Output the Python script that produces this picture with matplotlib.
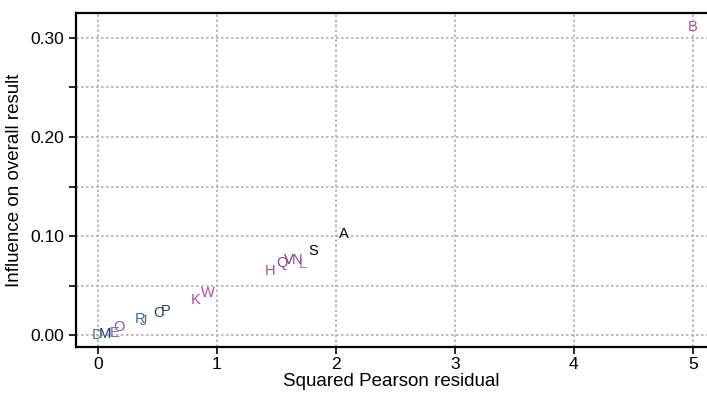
import matplotlib
matplotlib.use("Agg")
import matplotlib.pyplot as plt
from matplotlib.ticker import MultipleLocator

plt.rcParams['font.family'] = ['Liberation Sans', 'DejaVu Sans']

labels = ["B", "A", "S", "L", "N", "V", "Q", "H", "W", "K",
          "P", "C", "J", "R", "O", "E", "I", "M", "D"]
resid = [5.00, 2.07, 1.81, 1.72, 1.67, 1.60, 1.55, 1.45, 0.92, 0.82,
         0.57, 0.51, 0.38, 0.35, 0.18, 0.14, 0.11, 0.06, -0.01]
influence = [0.311, 0.102, 0.085, 0.072, 0.076, 0.076, 0.073, 0.065, 0.043, 0.036,
             0.024, 0.022, 0.014, 0.016, 0.008, 0.002, 0.002, 0.001, 0.000]
colors = ["#b5489b", "#000000", "#000000", "#5b9bd5", "#9a3d95", "#8e3c91",
          "#8a4090", "#b5489b", "#b5489b", "#b5489b", "#2e3f5e", "#2e3f5e",
          "#3d6ea6", "#3d6ea6", "#7d55a8", "#8a70c0", "#5b9bd5", "#2e3f5e",
          "#4a6f9b"]

fig = plt.figure(figsize=(7.07, 3.94), dpi=100)
ax = fig.add_axes([0.1075, 0.119, 0.8925, 0.848])

for lab, x, y, c in zip(labels, resid, influence, colors):
    ax.text(x, y, lab, color=c, fontsize=10.5, ha="center", va="center")

ax.set_xlim(-0.185, 5.12)
ax.set_ylim(-0.012, 0.325)
ax.xaxis.set_major_locator(MultipleLocator(1))
ax.yaxis.set_minor_locator(MultipleLocator(0.05))
ax.set_yticks([0.0, 0.1, 0.2, 0.3])
ax.set_yticklabels(["0.00", "0.10", "0.20", "0.30"])

ax.grid(True, which="major", color="#b0b0b0", linestyle=(0, (1.5, 1.5)), linewidth=1.2)
ax.grid(True, which="minor", axis="y", color="#b0b0b0", linestyle=(0, (1.5, 1.5)), linewidth=1.2)
ax.set_axisbelow(True)

for s in ["left", "bottom", "top"]:
    ax.spines[s].set_linewidth(1.6)
ax.spines["right"].set_visible(False)
ax.tick_params(which="both", direction="out", length=5, width=1.2, labelsize=12.5)
ax.tick_params(axis="x", pad=2)

ax.set_xlabel("Squared Pearson residual", fontsize=13.5, labelpad=1)
ax.set_ylabel("Influence on overall result", fontsize=13.5, labelpad=5)

fig.savefig("out.png", dpi=100)
